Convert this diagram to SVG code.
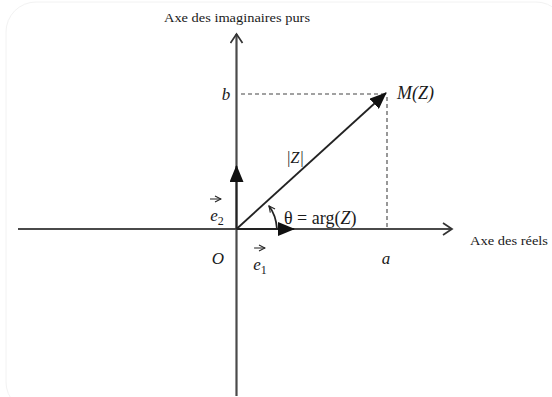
<svg xmlns="http://www.w3.org/2000/svg" width="552" height="397" viewBox="0 0 552 397">
<defs>
<style>
.ax{stroke:#4a4a4a;stroke-width:2.2;fill:none}
.dash{stroke:#444;stroke-width:1.1;stroke-dasharray:4,3;fill:none}
.vec{stroke:#222;stroke-width:1.8;fill:none}
.t{font-family:"Liberation Serif",serif;fill:#1a1a1a}
.i{font-style:italic}
</style>
<marker id="open" markerWidth="12" markerHeight="14" refX="10" refY="7" orient="auto" markerUnits="userSpaceOnUse">
<path d="M1,1 L10,7 L1,13" fill="none" stroke="#333" stroke-width="1.7"/>
</marker>
<marker id="tri" markerWidth="18" markerHeight="14" refX="16" refY="7" orient="auto" markerUnits="userSpaceOnUse">
<path d="M0,0 L17,7 L0,14 Z" fill="#111"/>
</marker>
<marker id="small" markerWidth="8" markerHeight="8" refX="7" refY="4" orient="auto" markerUnits="userSpaceOnUse">
<path d="M1,1 L7,4 L1,7" fill="none" stroke="#222" stroke-width="1.1"/>
</marker>
</defs>
<rect x="6" y="2" width="560" height="410" rx="30" fill="none" stroke="#f2f2f2" stroke-width="1"/>
<g id="connectors">
<line class="ax" x1="18" y1="229" x2="452" y2="229" marker-end="url(#open)"/>
<line class="ax" x1="236.5" y1="396" x2="236.5" y2="34" marker-end="url(#open)"/>
<line class="dash" x1="241" y1="94" x2="384" y2="94"/>
<line class="dash" x1="387" y1="97" x2="387" y2="228"/>
<line class="vec" x1="236.5" y1="229" x2="386" y2="93" marker-end="url(#tri)"/>
<line class="vec" x1="236.5" y1="229" x2="236.5" y2="166" stroke-width="2.4" marker-end="url(#tri)"/>
<line class="vec" x1="236.5" y1="229" x2="294" y2="229" stroke-width="2.4" marker-end="url(#tri)"/>
<path class="vec" stroke-width="1.3" d="M277,229 Q276,215 269,206" marker-end="url(#small)"/>
</g>
<g id="labels">
<text class="t" x="237" y="22" font-size="13.5" text-anchor="middle" textLength="146" lengthAdjust="spacingAndGlyphs">Axe des imaginaires purs</text>
<text class="t" x="470" y="245" font-size="13.5" textLength="78" lengthAdjust="spacingAndGlyphs">Axe des réels</text>
<text class="t i" x="226" y="100" font-size="17" text-anchor="middle">b</text>
<text class="t i" x="397" y="99" font-size="18">M(Z)</text>
<text class="t i" x="295" y="163" font-size="16" text-anchor="middle">|Z|</text>
<text class="t" x="284" y="224" font-size="18">θ = arg(<tspan class="i">Z</tspan>)</text>
<text class="t i" x="218" y="264" font-size="17" text-anchor="middle">O</text>
<text class="t i" x="386" y="264" font-size="17" text-anchor="middle">a</text>
<text class="t i" x="217" y="221" font-size="17" text-anchor="middle">e<tspan font-size="12" font-style="normal" dy="4">2</tspan></text>
<text class="t i" x="260" y="270" font-size="17" text-anchor="middle">e<tspan font-size="12" font-style="normal" dy="4">1</tspan></text>
<line x1="210" y1="199" x2="221" y2="199" stroke="#333" stroke-width="1.1" marker-end="url(#small)"/>
<line x1="254" y1="248" x2="265" y2="248" stroke="#333" stroke-width="1.1" marker-end="url(#small)"/>
</g>
</svg>
